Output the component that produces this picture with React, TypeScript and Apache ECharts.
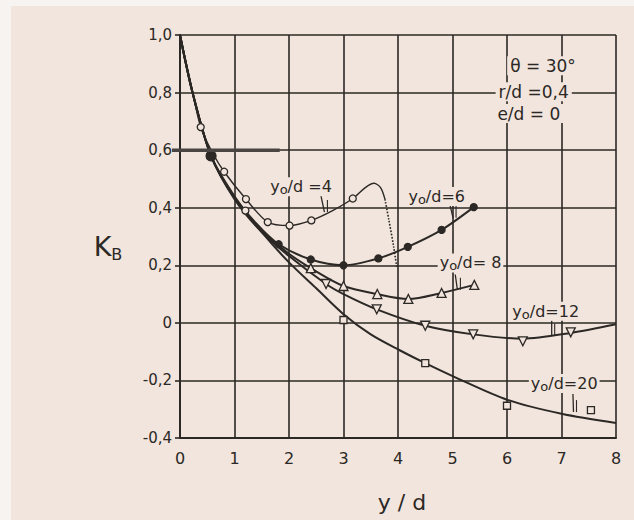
import React, { useEffect, useRef } from "react";
import * as echarts from "echarts";

// ---- axes ----
const X_MIN = 0;
const X_MAX = 8;
const X_STEP = 1;
const Y_MIN = -0.4;
const Y_MAX = 1.0;
const Y_STEP = 0.2;

// ---- curve y0/d = 4 (open circles) ----
const c4X = [0, 0.2, 0.38, 0.6, 0.81, 1.21, 1.61, 2.01, 2.41, 2.8, 3.17, 3.4, 3.56, 3.68, 3.76];
const c4Y = [1.0, 0.83, 0.68, 0.59, 0.525, 0.43, 0.35, 0.338, 0.356, 0.39, 0.432, 0.47, 0.485, 0.47, 0.43];
const c4DropX = [3.76, 3.83, 3.92, 3.98];
const c4DropY = [0.43, 0.36, 0.265, 0.19];
const m4X = [0.38, 0.81, 1.21, 1.2, 1.61, 2.01, 2.41, 3.17];
const m4Y = [0.68, 0.525, 0.43, 0.39, 0.35, 0.338, 0.356, 0.432];

// ---- curve y0/d = 6 (filled dots) ----
const c6X = [0, 0.23, 0.57, 1.0, 1.4, 1.81, 2.4, 3.0, 3.64, 4.18, 4.8, 5.39];
const c6Y = [1.0, 0.8, 0.58, 0.44, 0.345, 0.273, 0.22, 0.2, 0.224, 0.264, 0.323, 0.402];
const m6X = [1.81, 2.4, 3.0, 3.64, 4.18, 4.8, 5.39];
const m6Y = [0.273, 0.22, 0.2, 0.224, 0.264, 0.323, 0.402];
const m6BigX = [0.57];
const m6BigY = [0.58];

// ---- curve y0/d = 8 (triangles) ----
const c8X = [0, 0.23, 0.57, 1.0, 1.5, 2.0, 2.4, 3.0, 3.62, 4.19, 4.8, 5.4];
const c8Y = [1.0, 0.8, 0.58, 0.435, 0.32, 0.24, 0.19, 0.128, 0.1, 0.083, 0.104, 0.132];
const m8X = [2.4, 3.0, 3.62, 4.19, 4.8, 5.4];
const m8Y = [0.19, 0.128, 0.1, 0.083, 0.104, 0.132];

// ---- curve y0/d = 12 (inverted triangles) ----
const c12X = [0, 0.23, 0.57, 1.0, 1.5, 2.0, 2.68, 3.0, 3.61, 4.5, 5.38, 6.29, 7.17, 8.0];
const c12Y = [1.0, 0.8, 0.58, 0.43, 0.315, 0.232, 0.135, 0.1, 0.047, -0.01, -0.04, -0.055, -0.035, -0.005];
const m12X = [2.68, 3.61, 4.5, 5.38, 6.29, 7.17];
const m12Y = [0.135, 0.047, -0.01, -0.04, -0.064, -0.033];

// ---- curve y0/d = 20 (squares) ----
const c20X = [0, 0.23, 0.57, 1.0, 1.5, 2.0, 2.5, 3.0, 3.5, 4.04, 4.5, 5.06, 6.0, 7.0, 8.0];
const c20Y = [1.0, 0.8, 0.58, 0.435, 0.315, 0.21, 0.12, 0.03, -0.04, -0.096, -0.14, -0.19, -0.267, -0.316, -0.348];
const m20X = [3.0, 4.5, 6.0, 7.54];
const m20Y = [0.01, -0.14, -0.288, -0.303];

// ---- texts ----
const paramTexts = ["θ = 30°", "r/d =0,4", "e/d = 0"];
const paramAtX = [6.66, 6.49, 6.4];
const paramAtY = [0.893, 0.803, 0.727];
const curveLabelTail = ["/d =4", "/d=6", "/d= 8", "/d=12", "/d=20"];
const curveLabelX = [2.22, 4.71, 5.33, 6.71, 7.05];
const curveLabelY = [0.473, 0.439, 0.208, 0.04, -0.211];
const leaderX1 = [2.58, 4.93, 5.05, 6.82, 7.21];
const leaderY1 = [0.447, 0.428, 0.168, 0.008, -0.247];
const leaderX2 = [2.65, 5.01, 5.09, 6.82, 7.22];
const leaderY2 = [0.385, 0.365, 0.115, -0.045, -0.31];
const penMarkX = [0, 1.83];
const penMarkY = [0.6, 0.6];

const BG = "#f1e5dd";
const EDGE = "#f7f3f0";
const INK = "#2c2825";
const FONT = "DejaVu Sans";

const zip = (xs: number[], ys: number[]) => xs.map((x, i) => [x, ys[i]]);

export default function App() {
  const ref = useRef<HTMLDivElement>(null);
  useEffect(() => {
    if (!ref.current) return;
    const chart = echarts.init(ref.current, null, { renderer: "svg" });
    const line = (xs: number[], ys: number[], width = 2, type = "solid") => ({
      type: "line",
      data: zip(xs, ys),
      showSymbol: false,
      smooth: 0.3,
      silent: true,
      z: 3,
      lineStyle: { color: INK, width, type },
    });
    const marks = (xs: number[], ys: number[], symbol: string, size: number, filled: boolean, rotate = 0) => ({
      type: "scatter",
      data: zip(xs, ys),
      symbol,
      symbolSize: size,
      symbolRotate: rotate,
      silent: true,
      z: 5,
      itemStyle: {
        color: filled ? INK : BG,
        borderColor: INK,
        borderWidth: 1.3,
        opacity: 1,
      },
    });
    const option: any = {
      animation: false,
      backgroundColor: BG,
      grid: { left: 180, right: 18, top: 35, bottom: 82 },
      xAxis: {
        type: "value",
        min: X_MIN,
        max: X_MAX,
        interval: X_STEP,
        axisLine: { show: true, onZero: false, lineStyle: { color: INK, width: 2 } },
        axisTick: { show: false },
        axisLabel: { color: INK, fontSize: 16, fontFamily: FONT, margin: 12 },
        splitLine: { show: true, lineStyle: { color: INK, width: 1.6 } },
      },
      yAxis: {
        type: "value",
        min: Y_MIN,
        max: Y_MAX,
        interval: Y_STEP,
        axisLine: { show: true, onZero: false, lineStyle: { color: INK, width: 2 } },
        axisTick: { show: true, length: 5, lineStyle: { color: INK, width: 1.6 } },
        axisLabel: {
          color: INK,
          fontSize: 15,
          fontFamily: FONT,
          margin: 8,
          formatter: (v: number) => {
            const r = Math.round(v * 10) / 10;
            return r === 0 ? "0" : r.toFixed(1).replace(".", ",");
          },
        },
        splitLine: { show: true, lineStyle: { color: INK, width: 1.6 } },
      },
      series: [
        line(c20X, c20Y),
        line(c12X, c12Y),
        line(c8X, c8Y),
        line(c6X, c6Y),
        line(c4X, c4Y, 1.4),
        line(c4DropX, c4DropY, 1.6, "dotted"),
        marks(m4X, m4Y, "circle", 7, false),
        marks(m6X, m6Y, "circle", 7, true),
        marks(m6BigX, m6BigY, "circle", 10, true),
        marks(m8X, m8Y, "triangle", 9, false),
        marks(m12X, m12Y, "triangle", 9, false, 180),
        marks(m20X, m20Y, "rect", 7, false),
      ],
    };
    chart.setOption(option);

    const px = (x: number, y: number) => chart.convertToPixel({ gridIndex: 0 }, [x, y]) as number[];
    const graphics: any[] = [
      { type: "rect", shape: { x: 0, y: 0, width: 11, height: 520 }, style: { fill: EDGE }, z: 0 },
      { type: "rect", shape: { x: 0, y: 0, width: 634, height: 6 }, style: { fill: EDGE }, z: 0 },
    ];
    // pen mark on the 0,6 line
    {
      const a = px(penMarkX[0], penMarkY[0]);
      const b = px(penMarkX[1], penMarkY[1]);
      graphics.push({
        type: "line",
        shape: { x1: a[0] - 8, y1: a[1], x2: b[0], y2: b[1] },
        style: { stroke: "#4a4542", lineWidth: 3.5 },
        z: 6,
      });
    }
    paramTexts.forEach((t, i) => {
      const p = px(paramAtX[i], paramAtY[i]);
      graphics.push({
        type: "text",
        x: p[0],
        y: p[1],
        z: 10,
        style: {
          text: t,
          fill: INK,
          font: `17px "${FONT}"`,
          align: "center",
          verticalAlign: "middle",
          backgroundColor: BG,
          padding: [1, 3],
        },
      });
    });
    curveLabelTail.forEach((t, i) => {
      const p = px(curveLabelX[i], curveLabelY[i]);
      graphics.push({
        type: "text",
        x: p[0],
        y: p[1],
        z: 10,
        style: {
          text: `{n|y}{s|o}{n|${t}}`,
          fill: INK,
          align: "center",
          verticalAlign: "middle",
          backgroundColor: BG,
          padding: [0, 2],
          rich: {
            n: { fontSize: 16, fontFamily: FONT, lineHeight: 19, verticalAlign: "middle", fill: INK },
            s: { fontSize: 13, fontFamily: FONT, lineHeight: 13, verticalAlign: "bottom", fill: INK },
          },
        },
      });
      const a = px(leaderX1[i], leaderY1[i]);
      const b = px(leaderX2[i], leaderY2[i]);
      graphics.push({
        type: "line",
        z: 9,
        shape: { x1: a[0], y1: a[1], x2: b[0], y2: b[1] },
        style: { stroke: INK, lineWidth: 1.3 },
      });
      graphics.push({
        type: "line",
        z: 9,
        shape: { x1: b[0] + 3, y1: b[1] - 12, x2: b[0] + 3, y2: b[1] },
        style: { stroke: INK, lineWidth: 1.1 },
      });
    });
    graphics.push({
      type: "text",
      x: 108,
      y: 246,
      z: 10,
      style: {
        text: "{k|K}{b|B}",
        align: "center",
        verticalAlign: "middle",
        rich: {
          k: { fontSize: 27, fontFamily: FONT, lineHeight: 32, verticalAlign: "middle", fill: INK },
          b: { fontSize: 16, fontFamily: FONT, lineHeight: 17, verticalAlign: "bottom", fill: INK },
        },
      },
    });
    graphics.push({
      type: "text",
      x: 402,
      y: 502,
      z: 10,
      style: {
        text: "y / d",
        fill: INK,
        font: `22px "${FONT}"`,
        align: "center",
        verticalAlign: "middle",
      },
    });
    chart.setOption({ graphic: graphics });
    return () => chart.dispose();
  }, []);
  return (
    <div style={{ position: "fixed", left: 0, top: 0, width: 634, height: 520, background: BG }}>
      <div ref={ref} style={{ width: 634, height: 520 }} />
    </div>
  );
}
